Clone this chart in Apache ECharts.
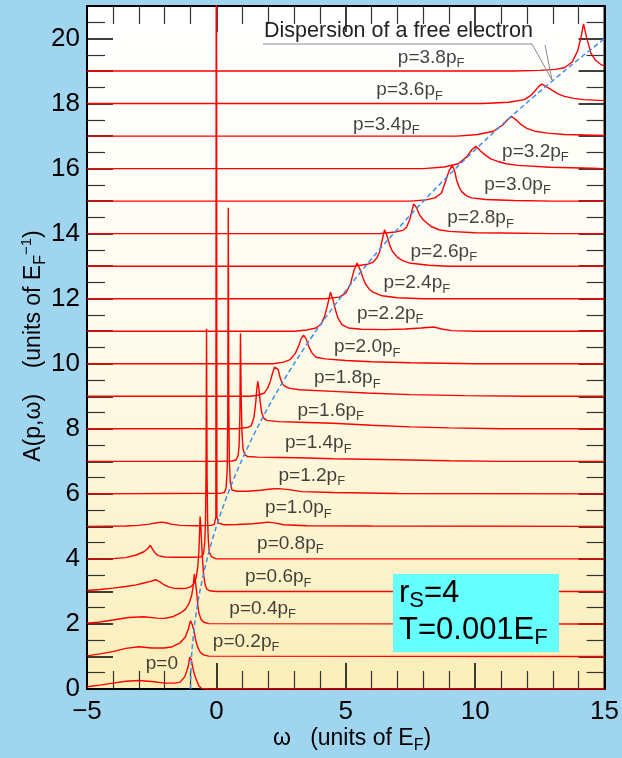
<!DOCTYPE html>
<html>
<head>
<meta charset="utf-8">
<script src="https://cdn.jsdelivr.net/npm/echarts@6/dist/echarts.min.js"></script>
<style>
  html, body { margin: 0; padding: 0; background: #a0d5f0; }
  #chart { width: 622px; height: 758px; }
</style>
</head>
<body>
<div id="chart"></div>
<script>
// Momentum of each spectral curve, in units of p_F
const momenta = ['0', '0.2', '0.4', '0.6', '0.8', '1.0', '1.2', '1.4', '1.6', '1.8',
                 '2.0', '2.2', '2.4', '2.6', '2.8', '3.0', '3.2', '3.4', '3.6', '3.8'];
// Vertical offset of each curve (units of 1/E_F)
const offsets = [0, 1, 2, 3, 4, 5, 6, 7, 8, 9, 10, 11, 12, 13, 14, 15, 16, 17, 18, 19];

// Spectral functions A(p, omega): [omega, A] pairs, omega in units of E_F
const curve00 = [[-5,0.07],[-4.5,0.12],[-4,0.18],[-3.5,0.24],[-3,0.26],[-2.5,0.23],[-2,0.18],[-1.6,0.18],[-1.4,0.21],[-1.22,0.38],[-1.1,0.66],[-1.03,0.98],[-0.97,0.9],[-0.92,0.69],[-0.85,0.45],[-0.77,0.28],[-0.68,0.1],[-0.58,0.02],[-0.4,0],[15,0]];
const curve02 = [[-5,0.02],[-4.5,0.08],[-4,0.15],[-3.5,0.25],[-3,0.3],[-2.5,0.26],[-2,0.26],[-1.7,0.3],[-1.4,0.42],[-1.2,0.6],[-1.08,0.85],[-1.0,1.1],[-0.94,1.0],[-0.87,0.8],[-0.8,0.5],[-0.72,0.28],[-0.62,0.13],[-0.5,0.05],[-0.3,0.01],[15,0]];
const curve04 = [[-5,0.02],[-4.5,0.06],[-4,0.12],[-3.4,0.2],[-2.8,0.22],[-2.3,0.18],[-2,0.17],[-1.7,0.22],[-1.4,0.33],[-1.2,0.45],[-1.05,0.64],[-0.95,0.9],[-0.9,1.15],[-0.85,1.53],[-0.8,1.25],[-0.76,0.95],[-0.72,0.6],[-0.68,0.35],[-0.6,0.15],[-0.5,0.06],[-0.3,0.01],[15,0]];
const curve06 = [[-5,0.03],[-4.5,0.06],[-4,0.1],[-3.5,0.15],[-3.1,0.2],[-2.8,0.26],[-2.55,0.31],[-2.35,0.36],[-2.2,0.3],[-2.05,0.22],[-1.85,0.14],[-1.65,0.1],[-1.4,0.09],[-1.15,0.1],[-0.98,0.15],[-0.88,0.22],[-0.78,0.42],[-0.72,0.75],[-0.68,1.18],[-0.65,1.8],[-0.63,2.3],[-0.6,2.0],[-0.57,1.5],[-0.53,0.9],[-0.49,0.5],[-0.44,0.22],[-0.38,0.08],[-0.26,0.02],[0,0],[15,0]];
const curve08 = [[-5,0],[-4,0.01],[-3.5,0.04],[-3.1,0.12],[-2.8,0.22],[-2.65,0.32],[-2.55,0.42],[-2.47,0.3],[-2.38,0.19],[-2.25,0.1],[-2.0,0.06],[-1.6,0.05],[-1.0,0.05],[-0.6,0.06],[-0.5,0.15],[-0.45,0.5],[-0.42,1.2],[-0.4,2.6],[-0.38,7.08],[-0.36,2.6],[-0.34,1.2],[-0.31,0.55],[-0.27,0.2],[-0.2,0.08],[-0.1,0.03],[0,0],[15,0]];
const curve10 = [[-5,0],[-3.5,0.01],[-3,0.03],[-2.6,0.07],[-2.3,0.11],[-2.12,0.13],[-1.95,0.11],[-1.75,0.07],[-1.4,0.03],[-0.8,0.02],[-0.2,0.03],[-0.08,0.06],[-0.02,0.3],[0,25],[0.02,0.3],[0.08,0.1],[0.3,0.05],[0.8,0.06],[1.4,0.08],[1.8,0.11],[2.0,0.13],[2.3,0.1],[2.6,0.05],[3.5,0.02],[6,0.01],[15,0]];
const curve12 = [[-5,0],[0.2,0.02],[0.32,0.05],[0.38,0.2],[0.42,0.8],[0.44,2.5],[0.46,8.8],[0.48,2.8],[0.5,1.0],[0.54,0.35],[0.6,0.12],[0.8,0.08],[1.2,0.08],[1.7,0.11],[2.1,0.15],[2.4,0.16],[2.8,0.13],[3.3,0.07],[4.5,0.04],[7,0.01],[15,0]];
const curve14 = [[-5,0],[0,0],[0.6,0.01],[0.76,0.04],[0.84,0.18],[0.88,0.5],[0.91,1.5],[0.93,3.94],[0.96,1.9],[0.99,0.87],[1.03,0.38],[1.1,0.2],[1.2,0.15],[1.6,0.13],[2.4,0.12],[3.2,0.11],[4.5,0.08],[7,0.05],[9,0.02],[11,0],[15,0]];
const curve16 = [[-5,0],[0.8,0],[1.2,0.04],[1.35,0.1],[1.45,0.35],[1.52,0.8],[1.56,1.2],[1.6,1.46],[1.64,1.25],[1.69,0.85],[1.75,0.5],[1.83,0.33],[1.95,0.26],[2.4,0.22],[3.2,0.2],[4.5,0.17],[6,0.11],[7.5,0.06],[9,0.03],[11,0],[15,0]];
const curve18 = [[-5,0],[1.3,0],[1.6,0.03],[1.85,0.1],[1.98,0.25],[2.08,0.45],[2.18,0.74],[2.25,0.9],[2.32,0.94],[2.39,0.82],[2.45,0.61],[2.53,0.42],[2.62,0.32],[2.8,0.25],[3.2,0.2],[4.5,0.15],[5.8,0.1],[7.5,0.05],[9.6,0.02],[12,0],[15,0]];
const curve20 = [[-5,0],[2.2,0],[2.6,0.05],[2.85,0.13],[3.05,0.32],[3.18,0.55],[3.28,0.78],[3.37,0.88],[3.46,0.78],[3.56,0.55],[3.68,0.35],[3.85,0.2],[4.2,0.15],[5,0.1],[6,0.06],[7.5,0.03],[10,0],[15,0]];
const curve22 = [[-5,0],[3.0,0],[3.5,0.04],[3.85,0.1],[4.05,0.22],[4.18,0.45],[4.3,0.82],[4.41,1.2],[4.5,0.98],[4.6,0.66],[4.7,0.4],[4.85,0.2],[5.1,0.1],[5.6,0.06],[6.5,0.05],[7.3,0.07],[7.9,0.1],[8.4,0.13],[8.7,0.07],[9.1,0.02],[10,0],[15,0]];
const curve24 = [[-5,0],[4.2,0],[4.75,0.05],[5.0,0.17],[5.18,0.45],[5.31,0.85],[5.44,1.1],[5.56,0.88],[5.66,0.65],[5.76,0.46],[5.9,0.3],[6.05,0.2],[6.4,0.09],[7,0.03],[8,0],[15,0]];
const curve26 = [[-5,0],[5.3,0],[5.8,0.05],[6.05,0.12],[6.2,0.25],[6.3,0.42],[6.4,0.78],[6.5,1.12],[6.6,0.92],[6.7,0.64],[6.8,0.46],[7.0,0.27],[7.2,0.17],[7.45,0.1],[8.2,0.03],[9,0],[15,0]];
const curve28 = [[-5,0],[6.3,0],[6.9,0.05],[7.2,0.1],[7.35,0.2],[7.48,0.45],[7.62,0.91],[7.72,0.82],[7.85,0.58],[8.0,0.42],[8.3,0.22],[8.6,0.12],[9.0,0.07],[10,0.03],[11,0.02],[13,0],[15,0]];
const curve30 = [[-5,0],[7.5,0],[8.1,0.04],[8.45,0.1],[8.7,0.25],[8.9,0.71],[9.0,0.95],[9.12,1.09],[9.2,0.95],[9.28,0.66],[9.37,0.45],[9.47,0.3],[9.65,0.17],[9.86,0.1],[10.4,0.05],[11.5,0.02],[13,0],[15,0]];
const curve32 = [[-5,0],[8.0,0],[8.8,0.05],[9.35,0.15],[9.67,0.36],[9.87,0.58],[10.03,0.69],[10.2,0.55],[10.37,0.43],[10.6,0.3],[10.88,0.22],[11.2,0.15],[11.65,0.1],[12.9,0.04],[14.5,0.01],[15,0]];
const curve34 = [[-5,0],[9.3,0],[10.1,0.05],[10.7,0.15],[11.08,0.35],[11.25,0.5],[11.4,0.61],[11.58,0.5],[11.78,0.35],[12.0,0.24],[12.3,0.15],[12.8,0.09],[13.45,0.05],[15,0.02]];
const curve36 = [[-5,0],[10.3,0],[11.3,0.04],[11.9,0.12],[12.15,0.25],[12.3,0.38],[12.45,0.52],[12.57,0.6],[12.75,0.52],[12.94,0.43],[13.2,0.3],[13.45,0.22],[13.8,0.16],[14.2,0.12],[15,0.09]];
const curve38 = [[-5,0],[11.5,0],[12.5,0.02],[13.1,0.05],[13.45,0.1],[13.75,0.28],[13.96,0.62],[14.08,1.0],[14.19,1.45],[14.3,1.05],[14.47,0.56],[14.65,0.33],[14.86,0.2],[15,0.16]];

const spectra = [curve00, curve02, curve04, curve06, curve08, curve10, curve12, curve14, curve16, curve18,
                 curve20, curve22, curve24, curve26, curve28, curve30, curve32, curve34, curve36, curve38];

// Free-electron dispersion, drawn through the offset stack
const dispersionOmega = [-1.0, -0.96, -0.84, -0.64, -0.36, 0, 0.44, 0.96, 1.56, 2.24, 3.0, 3.84, 4.76, 5.76, 6.84, 8.0, 9.24, 10.56, 11.96, 13.44, 15.0];
const dispersionLevel = [0, 1, 2, 3, 4, 5, 6, 7, 8, 9, 10, 11, 12, 13, 14, 15, 16, 17, 18, 19, 20];

// Where each curve's momentum label sits (omega, level): left edge, vertical middle
const labelAnchors = [[-2.73,0.77],[-0.14,1.46],[0.5,2.48],[1.1,3.44],[1.57,4.48],[1.88,5.56],[2.4,6.56],[2.65,7.56],[3.13,8.55],[3.77,9.56],
                      [4.54,10.51],[5.43,11.54],[6.46,12.48],[7.5,13.45],[8.92,14.48],[10.35,15.5],[11.04,16.53],[5.28,17.35],[6.18,18.41],[7.01,19.42]];

const FONT = '"Liberation Sans", Arial, Helvetica, sans-serif';
const chart = echarts.init(document.getElementById('chart'), null, { renderer: 'canvas' });

const curveSeries = spectra.map((pts, i) => ({
  type: 'line',
  name: 'p=' + momenta[i],
  data: pts.map(([w, a]) => [w, offsets[i] + a]),
  symbol: 'none',
  clip: true,
  silent: true,
  lineStyle: { color: '#ff0000', width: 1.4 },
  z: 3
}));

const dispersionSeries = {
  type: 'line',
  name: 'free electron',
  data: dispersionOmega.map((w, i) => [w, dispersionLevel[i]]),
  symbol: 'none',
  smooth: 0.3,
  clip: true,
  silent: true,
  lineStyle: { color: '#3d8fe8', width: 1.5, type: [5, 3] },
  z: 4
};

const labelSeries = {
  type: 'scatter',
  data: momenta.map((p, i) => ({ value: labelAnchors[i], name: p })),
  symbolSize: 0.1,
  itemStyle: { color: 'transparent' },
  silent: true,
  z: 5,
  label: {
    show: true,
    position: 'right',
    distance: 0,
    formatter: ({ name }) => name === '0' ? '{m|p=0}' : '{m|p=' + name + 'p}{s|F}',
    rich: {
      m: { fontSize: 19, lineHeight: 24, fontFamily: FONT, color: '#111' },
      s: { fontSize: 13, lineHeight: 13, padding: [12, 0, 0, 0], fontFamily: FONT, color: '#111' }
    }
  }
};

const tickStyle = { color: '#000', width: 1.5 };
const minorStyle = { color: '#333', width: 1.2 };

function xAxisDef(pos, labels) {
  return {
    type: 'value', position: pos, min: -5, max: 15, interval: 5,
    axisLine: { show: true, onZero: false, lineStyle: { color: '#000', width: 2 } },
    axisTick: { show: true, inside: true, length: 26, lineStyle: tickStyle },
    minorTick: { show: true, splitNumber: 5, length: 18, lineStyle: minorStyle },
    splitLine: { show: false },
    axisLabel: {
      show: labels, margin: 10, fontSize: 26, fontFamily: FONT, color: '#000',
      formatter: v => v < 0 ? '\u2212' + Math.abs(v) : String(v)
    }
  };
}
function yAxisDef(pos, labels) {
  return {
    type: 'value', position: pos, min: 0, max: 21, interval: 1,
    axisLine: { show: true, onZero: false, lineStyle: { color: '#000', width: 2 } },
    axisTick: { show: true, inside: true, length: 26, lineStyle: tickStyle },
    minorTick: { show: true, splitNumber: 2, length: 18, lineStyle: minorStyle },
    splitLine: { show: false },
    axisLabel: {
      show: labels, margin: 7, fontSize: 26, fontFamily: FONT, color: '#000',
      formatter: v => (v % 2 === 0 ? String(v) : '')
    }
  };
}

chart.setOption({
  animation: false,
  backgroundColor: '#a0d5f0',
  grid: {
    left: 87, right: 15, top: 6, bottom: 69,
    show: true, borderColor: '#000', borderWidth: 2,
    backgroundColor: new echarts.graphic.LinearGradient(0, 0, 0, 1, [
      { offset: 0, color: '#ffffff' },
      { offset: 0.45, color: '#fefcf0' },
      { offset: 1, color: '#fbeeb9' }
    ])
  },
  xAxis: [xAxisDef('bottom', true), xAxisDef('top', false)],
  yAxis: [yAxisDef('left', true), yAxisDef('right', false)],
  series: [...curveSeries, dispersionSeries, labelSeries],
  graphic: [
    // axis titles
    {
      type: 'text', x: 273, y: 739, silent: true,
      style: {
        text: '{m|\u03c9   (units of E}{s|F}{m|)}', verticalAlign: 'middle', align: 'left',
        rich: {
          m: { fontSize: 23, lineHeight: 30, fontFamily: FONT, color: '#111' },
          s: { fontSize: 16, lineHeight: 16, padding: [13, 0, 0, 0], fontFamily: FONT, color: '#111' }
        }
      }
    },
    {
      type: 'text', x: 34, y: 346, rotation: Math.PI / 2, silent: true,
      style: {
        text: '{m|A(p,\u03c9)    (units of E}{s|F}{u|\u22121}{m|)}', verticalAlign: 'middle', align: 'center',
        rich: {
          m: { fontSize: 23, lineHeight: 30, fontFamily: FONT, color: '#111' },
          s: { fontSize: 16, lineHeight: 16, padding: [13, 0, 0, 0], fontFamily: FONT, color: '#111' },
          u: { fontSize: 15, lineHeight: 15, padding: [0, 0, 14, 0], fontFamily: FONT, color: '#111' }
        }
      }
    },
    // annotation for the dashed curve
    {
      type: 'text', x: 264, y: 31, silent: true, z: 10,
      style: { text: 'Dispersion of a free electron', fontSize: 21.5, fontFamily: FONT, fill: '#222', verticalAlign: 'middle' }
    },
    {
      type: 'polyline', silent: true, z: 10,
      shape: { points: [[263, 44], [532, 44], [552, 80]] },
      style: { stroke: '#888', lineWidth: 1, fill: null }
    },
    {
      type: 'line', silent: true, z: 10,
      shape: { x1: 545, y1: 45, x2: 552, y2: 80 },
      style: { stroke: '#888', lineWidth: 1 }
    },
    // parameter box
    {
      type: 'rect', silent: true, z: 10,
      shape: { x: 393, y: 574, width: 166, height: 78 },
      style: { fill: '#66ffff' }
    },
    {
      type: 'text', x: 399, y: 593, silent: true, z: 11,
      style: {
        text: '{m|r}{s|S}{m|=4}', verticalAlign: 'middle',
        rich: {
          m: { fontSize: 31, lineHeight: 36, fontFamily: FONT, color: '#111' },
          s: { fontSize: 22, lineHeight: 22, padding: [16, 0, 0, 0], fontFamily: FONT, color: '#111' }
        }
      }
    },
    {
      type: 'text', x: 399, y: 630, silent: true, z: 11,
      style: {
        text: '{m|T=0.001E}{s|F}', verticalAlign: 'middle',
        rich: {
          m: { fontSize: 31, lineHeight: 36, fontFamily: FONT, color: '#111' },
          s: { fontSize: 22, lineHeight: 22, padding: [16, 0, 0, 0], fontFamily: FONT, color: '#111' }
        }
      }
    }
  ]
});
</script>
</body>
</html>
